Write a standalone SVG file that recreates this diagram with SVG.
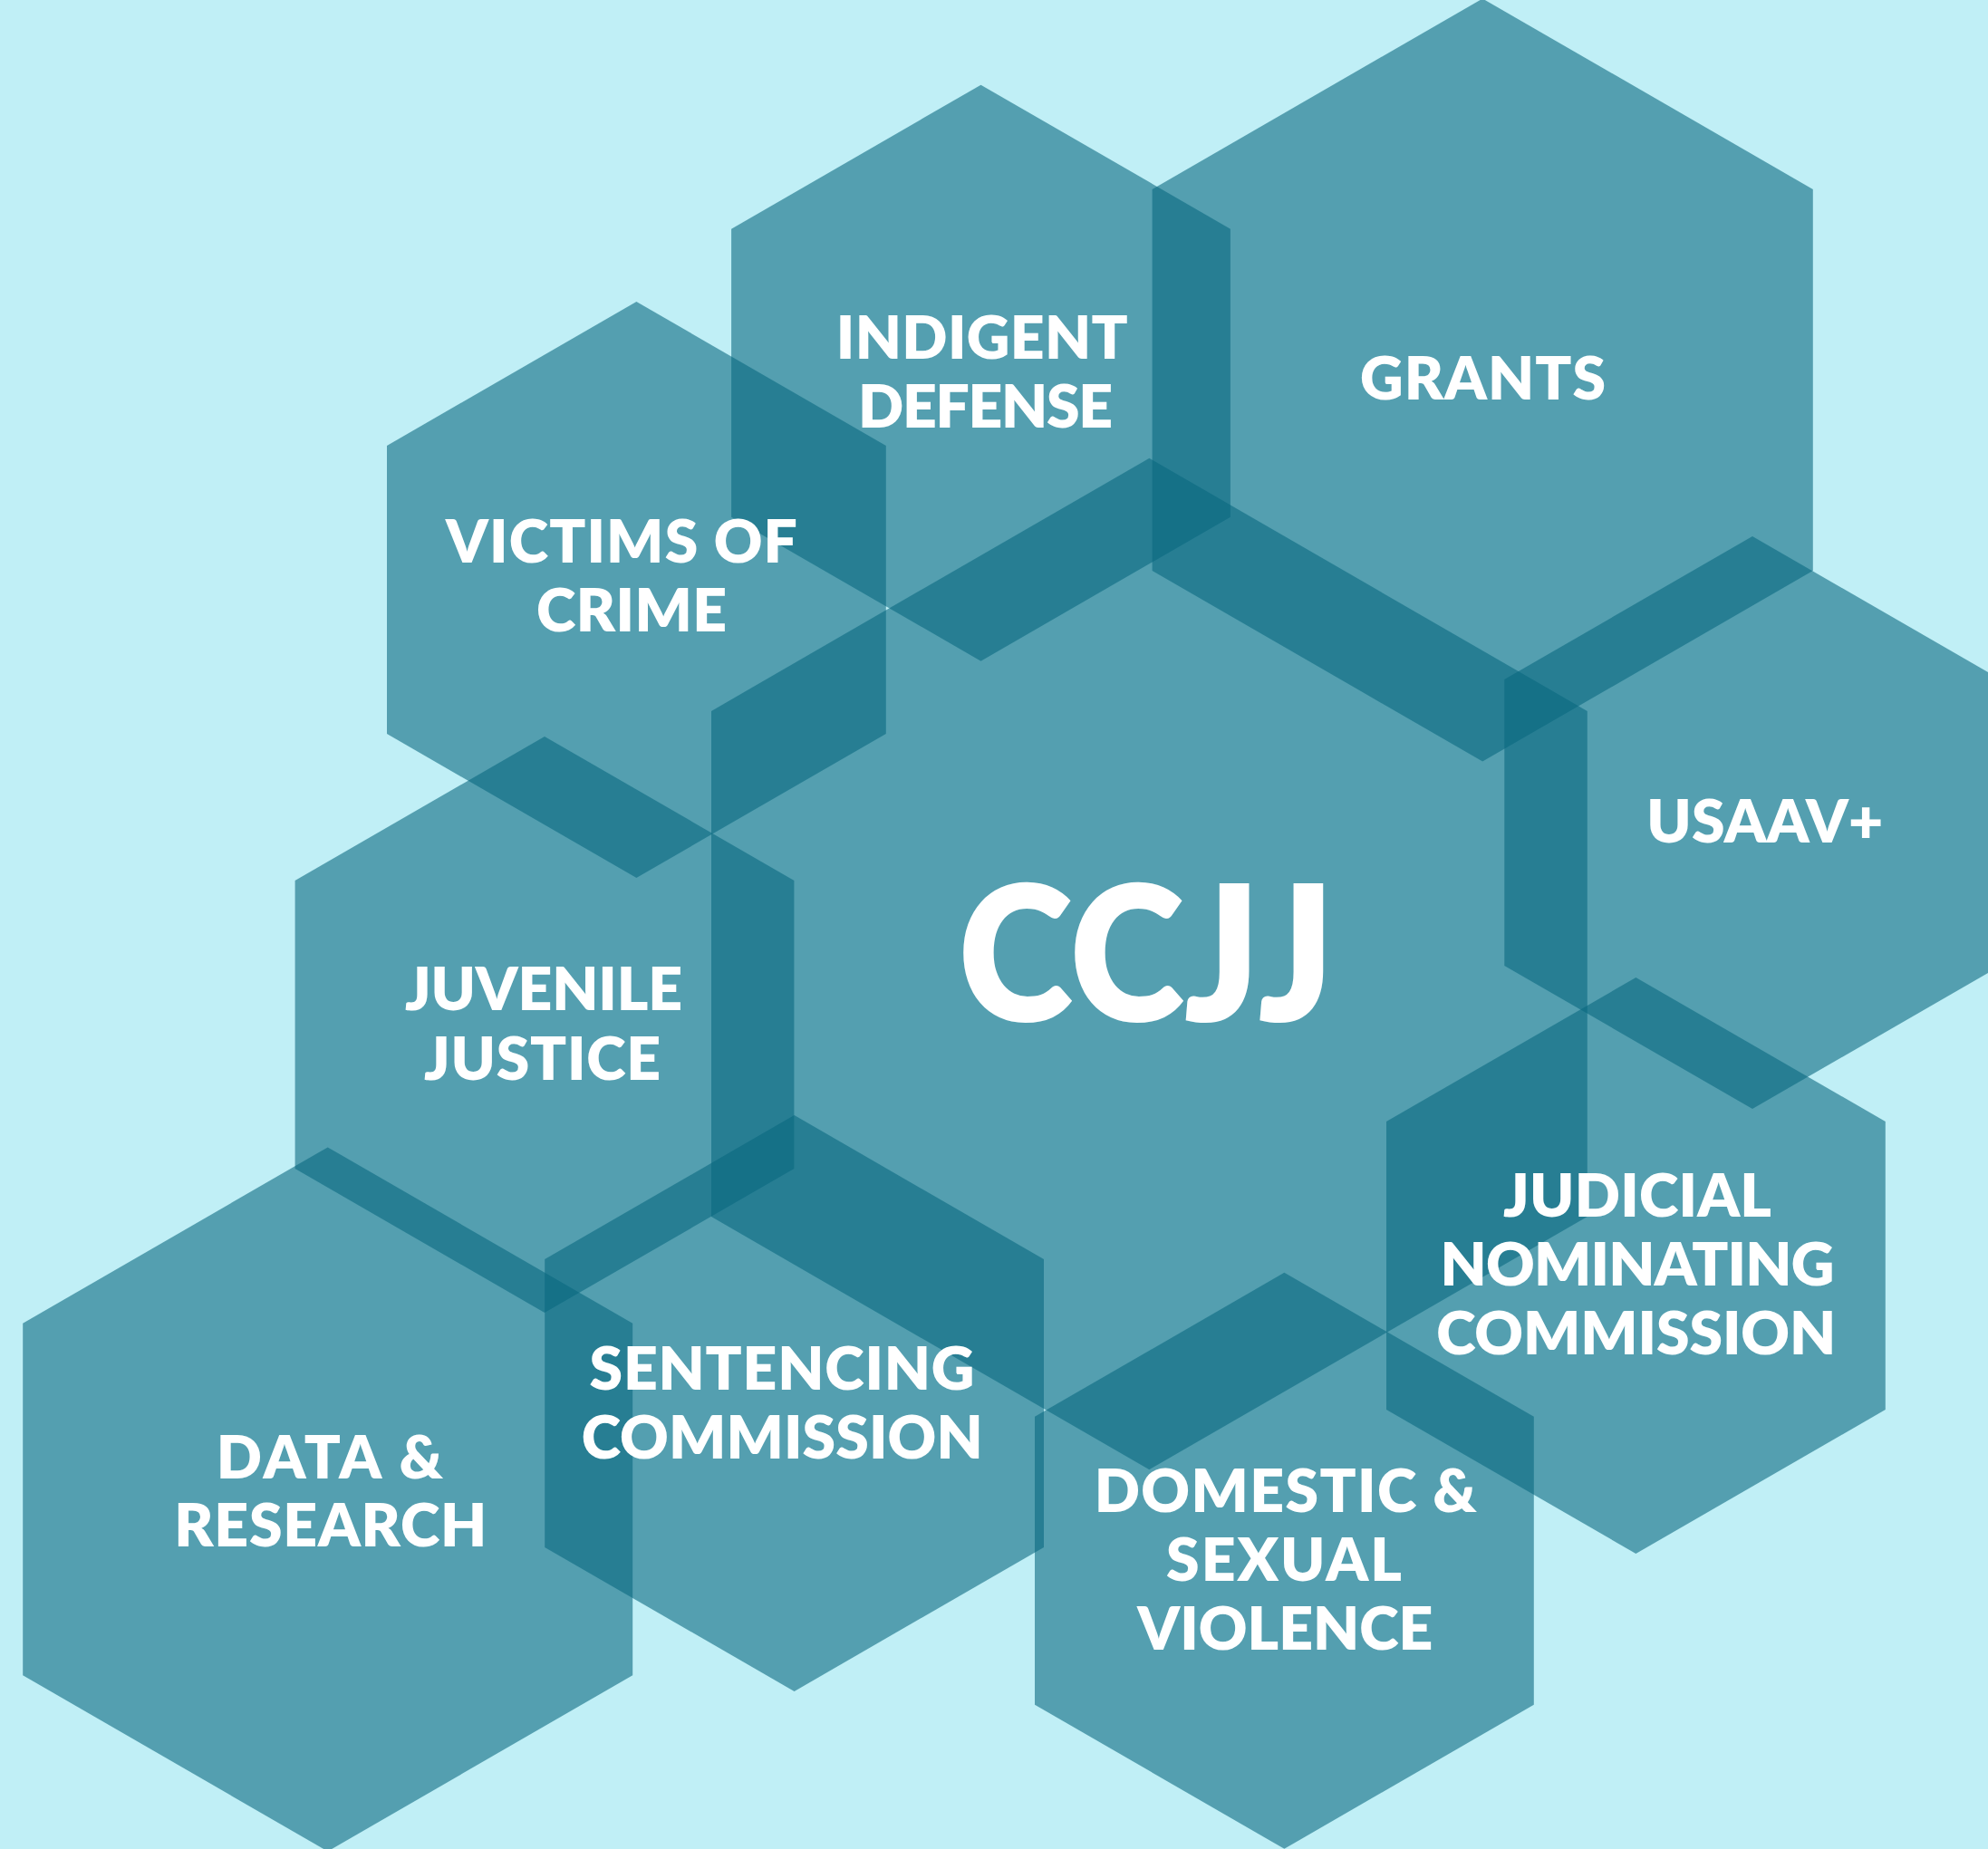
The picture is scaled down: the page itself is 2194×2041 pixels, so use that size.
<svg xmlns="http://www.w3.org/2000/svg" width="2194" height="2041" viewBox="0 0 2194 2041">
<style>
.hex{fill:#09677f;fill-opacity:0.59;stroke:none}
.lbl{font-family:Lato,"Open Sans","DejaVu Sans",sans-serif;font-weight:800;font-size:66px;fill:#ffffff;text-anchor:middle}
.big{font-size:209px}
</style>
<rect x="0" y="0" width="2194" height="2041" fill="#c0eff6"/>
<g id="connectors"></g>
<g id="node-grants">
<polygon class="hex" points="1636.2,-1.5 2000.8,209 2000.8,630 1636.2,840.5 1271.6,630 1271.6,209"/>
<text class="lbl" x="1636.5" y="440.7" textLength="271" lengthAdjust="spacing">GRANTS</text>
</g>
<g id="node-indigent-defense">
<polygon class="hex" points="1082.5,93.7 1357.9,252.7 1357.9,570.7 1082.5,729.7 807.1,570.7 807.1,252.7"/>
<text class="lbl" x="1083.8" y="395.7" textLength="322" lengthAdjust="spacing">INDIGENT</text>
<text class="lbl" x="1087.5" y="471.7" textLength="281" lengthAdjust="spacing">DEFENSE</text>
</g>
<g id="node-victims-of-crime">
<polygon class="hex" points="702.4,333 977.8,492 977.8,810 702.4,969 427,810 427,492"/>
<text class="lbl" x="686" y="621" textLength="388" lengthAdjust="spacing">VICTIMS OF</text>
<text class="lbl" x="697" y="697" textLength="210" lengthAdjust="spacing">CRIME</text>
</g>
<g id="node-ccjj">
<polygon class="hex" points="1268.4,505.8 1751.8,784.9 1751.8,1343.1 1268.4,1622.2 785,1343.1 785,784.9"/>
<text class="lbl big" x="1265" y="1127" textLength="415" lengthAdjust="spacingAndGlyphs">CCJJ</text>
</g>
<g id="node-usaav">
<polygon class="hex" points="1934,592 2207.7,750 2207.7,1066 1934,1224 1660.3,1066 1660.3,750"/>
<text class="lbl" x="1947.8" y="929.6" textLength="261" lengthAdjust="spacing">USAAV+</text>
</g>
<g id="node-juvenile-justice">
<polygon class="hex" points="601,813 876.4,972 876.4,1290 601,1449 325.6,1290 325.6,972"/>
<text class="lbl" x="600" y="1115" textLength="306" lengthAdjust="spacing">JUVENILE</text>
<text class="lbl" x="598.5" y="1191.7" textLength="261" lengthAdjust="spacing">JUSTICE</text>
</g>
<g id="node-data-research">
<polygon class="hex" points="361.7,1266.4 698.2,1460.7 698.2,1849.3 361.7,2043.6 25.2,1849.3 25.2,1460.7"/>
<text class="lbl" x="363.8" y="1632" textLength="250" lengthAdjust="spacing">DATA &amp;</text>
<text class="lbl" x="364.7" y="1707.3" textLength="345" lengthAdjust="spacing">RESEARCH</text>
</g>
<g id="node-sentencing-commission">
<polygon class="hex" points="876.6,1231 1152,1390 1152,1708 876.6,1867 601.2,1708 601.2,1390"/>
<text class="lbl" x="863" y="1534.3" textLength="425" lengthAdjust="spacing">SENTENCING</text>
<text class="lbl" x="863.3" y="1610" textLength="443" lengthAdjust="spacing">COMMISSION</text>
</g>
<g id="node-judicial-nominating-commission">
<polygon class="hex" points="1805.4,1079 2080.8,1238 2080.8,1556 1805.4,1715 1530,1556 1530,1238"/>
<text class="lbl" x="1807" y="1343.3" textLength="296" lengthAdjust="spacing">JUDICIAL</text>
<text class="lbl" x="1807" y="1419.3" textLength="435" lengthAdjust="spacing">NOMINATING</text>
<text class="lbl" x="1805.8" y="1495" textLength="441" lengthAdjust="spacing">COMMISSION</text>
</g>
<g id="node-domestic-sexual-violence">
<polygon class="hex" points="1417.4,1404.8 1692.8,1563.8 1692.8,1881.8 1417.4,2040.8 1142,1881.8 1142,1563.8"/>
<text class="lbl" x="1418.7" y="1669.3" textLength="422" lengthAdjust="spacing">DOMESTIC &amp;</text>
<text class="lbl" x="1417" y="1745" textLength="260" lengthAdjust="spacing">SEXUAL</text>
<text class="lbl" x="1418.3" y="1820.7" textLength="326" lengthAdjust="spacing">VIOLENCE</text>
</g>
</svg>
